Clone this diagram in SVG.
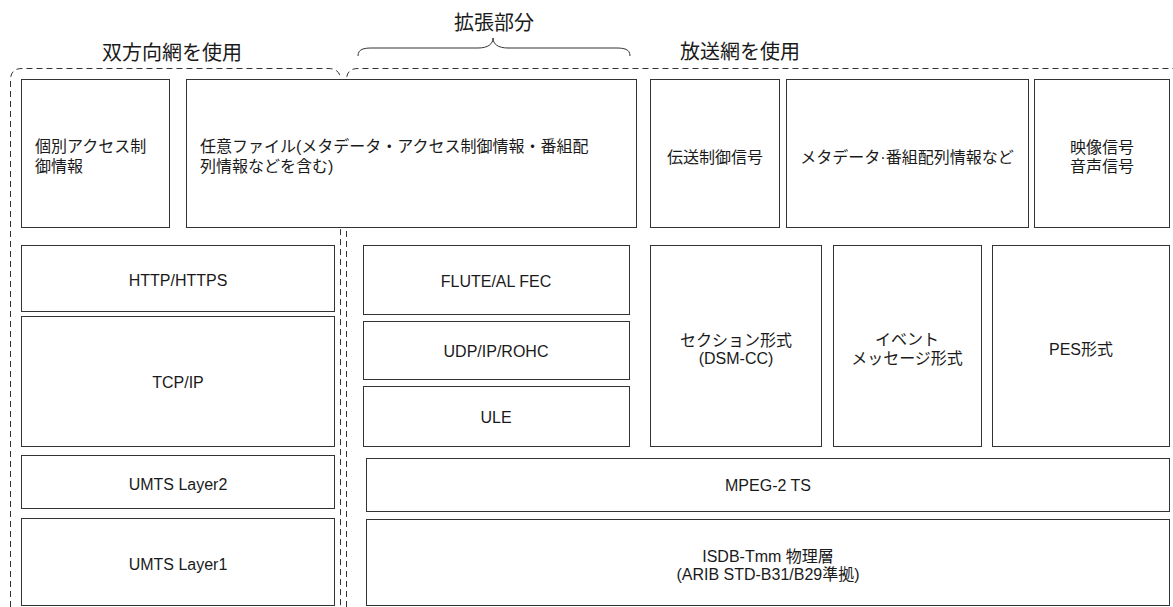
<svg xmlns="http://www.w3.org/2000/svg" width="1173" height="607" viewBox="0 0 1173 607">
<style>
  .box { fill: #ffffff; stroke: #333333; stroke-width: 1; }
  .dash { fill: none; stroke: #333333; stroke-width: 1; stroke-dasharray: 6 4; }
  .brace { fill: none; stroke: #333333; stroke-width: 1; }
  text { font-family: "Liberation Sans", "Noto Sans CJK JP", sans-serif; fill: #1a1a1a; font-size: 16px; }
  .c { text-anchor: middle; }
  .title { font-size: 20px; }
</style>
<rect x="0" y="0" width="1173" height="607" fill="#ffffff"/>

<g id="connectors">
  <path class="dash" d="M10.5,607 L10.5,80 Q10.5,68.5 22,68.5 L328,68.5 Q340.5,68.5 340.5,80 L340.5,607"/>
  <path class="dash" d="M346.5,607 L346.5,80 Q346.5,68.5 358,68.5 L1173,68.5"/>
  <path class="brace" d="M358,56 C358,49 364,48 372,48 L478,48 C488,48 493,44 493,38 C493,44 498,48 508,48 L616,48 C624,48 630,49 630,56"/>
</g>

<g id="label-bidir"><text class="title" x="102" y="60">双方向網を使用</text></g>
<g id="label-ext"><text class="title c" x="494" y="30">拡張部分</text></g>
<g id="label-bcast"><text class="title" x="680" y="59">放送網を使用</text></g>

<g id="n-kobetsu">
  <rect class="box" x="21.5" y="79.5" width="148" height="148"/>
  <text x="35" y="152">個別アクセス制</text>
  <text x="35" y="172">御情報</text>
</g>
<g id="n-nini">
  <rect class="box" x="186.5" y="79.5" width="450" height="148"/>
  <text x="200" y="152">任意ファイル(メタデータ・アクセス制御情報・番組配</text>
  <text x="200" y="172">列情報などを含む)</text>
</g>
<g id="n-densou">
  <rect class="box" x="650.5" y="79.5" width="129" height="148"/>
  <text class="c" x="715" y="163">伝送制御信号</text>
</g>
<g id="n-meta">
  <rect class="box" x="786.5" y="79.5" width="242" height="148"/>
  <text class="c" x="907" y="163">メタデータ·番組配列情報など</text>
</g>
<g id="n-eizou">
  <rect class="box" x="1034.5" y="79.5" width="135" height="148"/>
  <text class="c" x="1102" y="153">映像信号</text>
  <text class="c" x="1102" y="172">音声信号</text>
</g>

<g id="n-http">
  <rect class="box" x="21.5" y="245.5" width="313" height="66"/>
  <text class="c" x="178" y="286">HTTP/HTTPS</text>
</g>
<g id="n-tcp">
  <rect class="box" x="21.5" y="316.5" width="313" height="130"/>
  <text class="c" x="178" y="388">TCP/IP</text>
</g>
<g id="n-umts2">
  <rect class="box" x="21.5" y="455.5" width="313" height="53"/>
  <text class="c" x="178" y="490">UMTS Layer2</text>
</g>
<g id="n-umts1">
  <rect class="box" x="21.5" y="518.5" width="313" height="87"/>
  <text class="c" x="178" y="570">UMTS Layer1</text>
</g>

<g id="n-flute">
  <rect class="box" x="363.5" y="245.5" width="266" height="69"/>
  <text class="c" x="496" y="287">FLUTE/AL FEC</text>
</g>
<g id="n-udp">
  <rect class="box" x="363.5" y="321.5" width="266" height="58"/>
  <text class="c" x="496" y="357">UDP/IP/ROHC</text>
</g>
<g id="n-ule">
  <rect class="box" x="363.5" y="386.5" width="266" height="60"/>
  <text class="c" x="496" y="423">ULE</text>
</g>

<g id="n-section">
  <rect class="box" x="650.5" y="245.5" width="171" height="201"/>
  <text class="c" x="736" y="346">セクション形式</text>
  <text class="c" x="736" y="364">(DSM-CC)</text>
</g>
<g id="n-event">
  <rect class="box" x="833.5" y="245.5" width="148" height="201"/>
  <text class="c" x="907" y="345">イベント</text>
  <text class="c" x="907" y="364">メッセージ形式</text>
</g>
<g id="n-pes">
  <rect class="box" x="992.5" y="245.5" width="177" height="201"/>
  <text class="c" x="1081" y="355">PES形式</text>
</g>

<g id="n-mpeg">
  <rect class="box" x="366.5" y="458.5" width="803" height="53"/>
  <text class="c" x="768" y="491">MPEG-2 TS</text>
</g>
<g id="n-isdb">
  <rect class="box" x="366.5" y="519.5" width="803" height="86"/>
  <text class="c" x="768" y="562">ISDB-Tmm 物理層</text>
  <text class="c" x="768" y="580">(ARIB STD-B31/B29準拠)</text>
</g>
</svg>
